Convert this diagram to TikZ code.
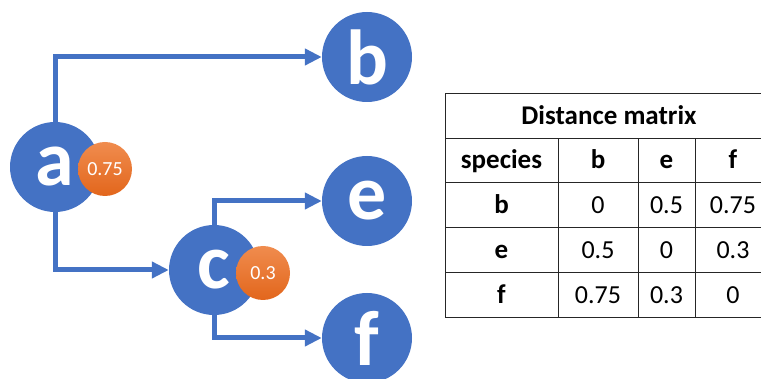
\documentclass[tikz,border=0pt]{standalone}
\usepackage{fontspec}
\setmainfont{Carlito}
\usetikzlibrary{arrows.meta}
\definecolor{nodeblue}{HTML}{4472C4}
\definecolor{badgetop}{HTML}{F08C4E}
\definecolor{badgebot}{HTML}{E2661C}

\begin{document}
\begin{tikzpicture}[x=1pt,y=-1pt,
    species/.style={circle,fill=nodeblue,minimum size=90pt,inner sep=0pt,
      text=white,font=\fontsize{78}{78}\selectfont\bfseries},
    badge/.style={circle,top color=badgetop,bottom color=badgebot,
      minimum size=54pt,inner sep=0pt,text=white,font=\fontsize{20}{20}\selectfont},
    branch/.style={nodeblue,line width=5pt,-{Triangle[length=17pt,width=16pt]}},
    cell/.style={text height=20pt,text depth=4pt,inner sep=0pt,
      font=\fontsize{26}{26}\selectfont},
    head/.style={cell,font=\fontsize{27}{27}\selectfont\bfseries}]
  \useasboundingbox (0,0) rectangle (761,379);

  % tree
  \node[species] (a) at (55,167) {a};
  \node[species] (b) at (367,57) {b};
  \node[species] (c) at (214,270) {c};
  \node[species] (e) at (367,201) {e};
  \node[species] (f) at (367,338) {f};
  \draw[branch] (a) |- (b);
  \draw[branch] (a) |- (c);
  \draw[branch] (c) |- (e);
  \draw[branch] (c) |- (f);
  \node[badge] (ha) at (105,169) {0.75};
  \node[badge] (hc) at (263,273) {0.3};

  % distance matrix
  \draw[black!85,line width=1pt] (772,94) -- (445,94) -- (445,318) -- (772,318);
  \foreach \y in {139,183,228,273}
    \draw[black!85,line width=1pt] (445,\y) -- (772,\y);
  \foreach \x in {558,638,695}
    \draw[black!85,line width=1pt] (\x,139) -- (\x,318);
  \node[head] (title) at (609,116.5) {Distance matrix};
  \node[head] (hsp) at (501.5,161) {species};
  \node[head] (hb) at (598,161) {b};
  \node[head] (he) at (666.5,161) {e};
  \node[head] (hf) at (733,161) {f};
  \foreach \r/\y/\p/\q/\s in {b/205.5/0/0.5/0.75, e/250.5/0.5/0/0.3, f/295.5/0.75/0.3/0} {
    \node[head] (row\r) at (501.5,\y) {\r};
    \node[cell] (\r-b) at (598,\y) {\p};
    \node[cell] (\r-e) at (666.5,\y) {\q};
    \node[cell] (\r-f) at (733,\y) {\s};
  }
\end{tikzpicture}
\end{document}
